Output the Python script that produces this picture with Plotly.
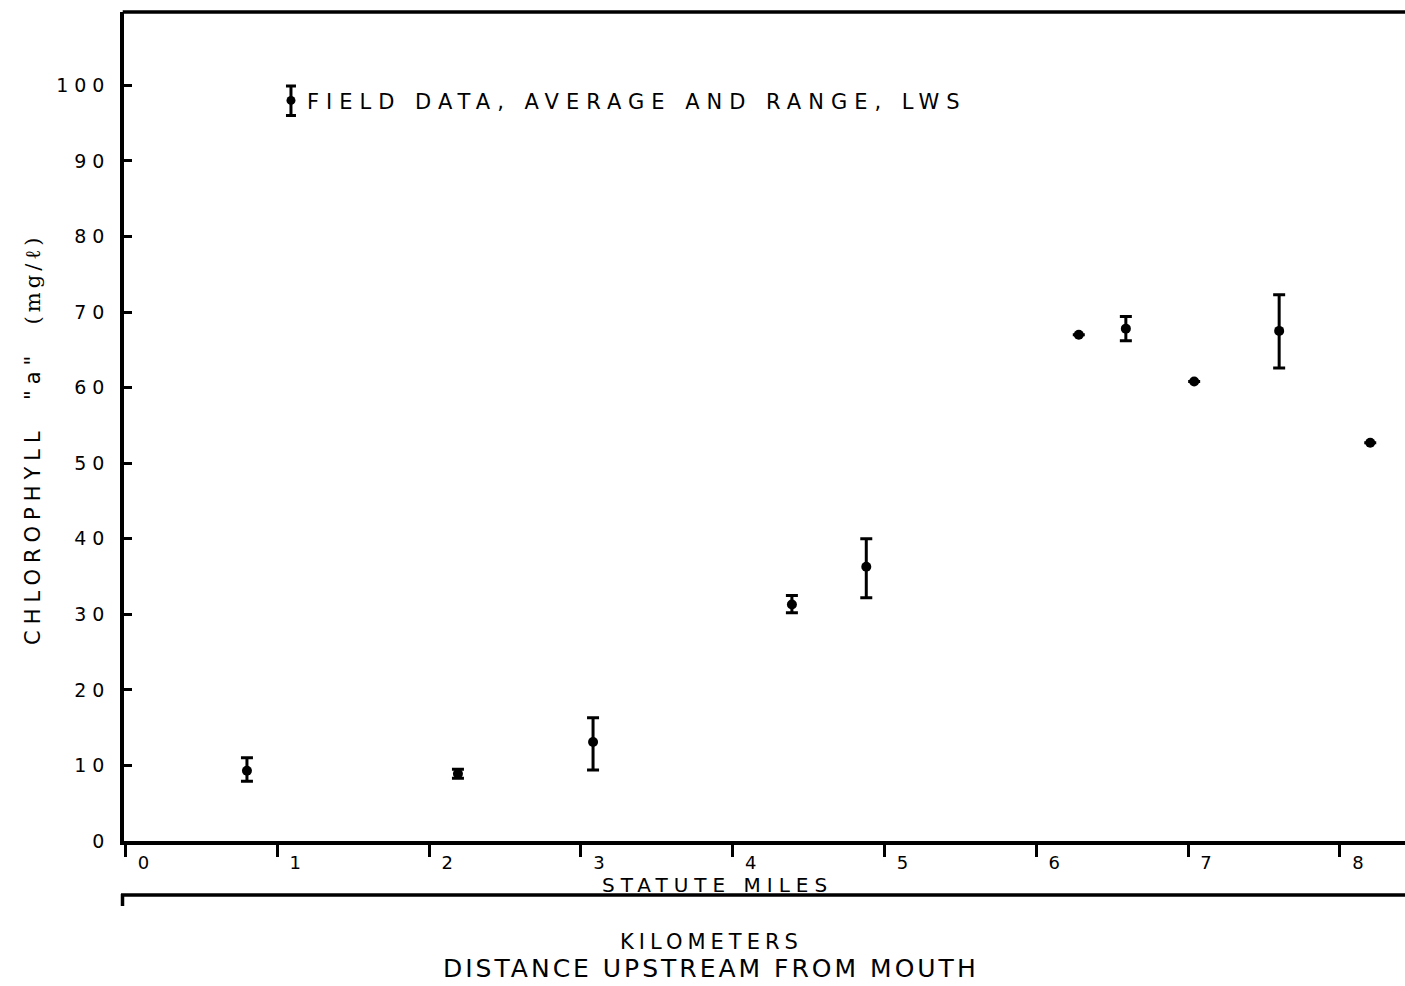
import plotly.graph_objects as go

# ---- data (statute miles upstream, chlorophyll a) ----
miles = [0.80, 2.19, 3.08, 4.39, 4.88, 6.28, 6.59, 7.04, 7.60, 8.20]
avg = [9.3, 8.9, 13.1, 31.3, 36.3, 67.0, 67.8, 60.8, 67.5, 52.7]
rng_max = [11.0, 9.5, 16.3, 32.5, 40.0, 67.0, 69.4, 60.8, 72.3, 52.7]
rng_min = [7.9, 8.3, 9.4, 30.2, 32.2, 67.0, 66.2, 60.8, 62.6, 52.7]

x_ticks = [0, 1, 2, 3, 4, 5, 6, 7, 8]
y_ticks = [0, 10, 20, 30, 40, 50, 60, 70, 80, 90, 100]

# legend key (drawn in data space, like the original legend symbol)
key_x = [1.09]
key_avg = [98.0]
key_max = [99.9]
key_min = [96.0]

FONT = "DejaVu Sans"
BLACK = "#000000"

err_up = [h - a for h, a in zip(rng_max, avg)]
err_dn = [a - l for a, l in zip(avg, rng_min)]


def spaced(text, px):
    return f'<span style="letter-spacing:{px}px">{text}</span>'


fig = go.Figure()
fig.add_trace(go.Scatter(
    x=miles, y=avg, mode="markers",
    marker=dict(color=BLACK, size=10),
    error_y=dict(type="data", symmetric=False, array=err_up, arrayminus=err_dn,
                 color=BLACK, thickness=3, width=6),
    showlegend=False,
))
fig.add_trace(go.Scatter(
    x=key_x, y=key_avg, mode="markers",
    marker=dict(color=BLACK, size=9),
    error_y=dict(type="data", symmetric=False,
                 array=[key_max[0] - key_avg[0]], arrayminus=[key_avg[0] - key_min[0]],
                 color=BLACK, thickness=3, width=5),
    showlegend=False,
))

W, H = 1405, 986
L, R, T, B = 124, 0, 12, 145
pw = W - L - R
ph = H - T - B


def px_x(px):
    return (px - L) / pw


def px_y(py):
    return (H - B - py) / ph


annotations = [
    dict(text=spaced("FIELD DATA, AVERAGE AND RANGE, LWS", 7), x=px_x(305), y=px_y(102),
         xanchor="left", yanchor="middle", font=dict(size=21)),
    dict(text=spaced('CHLOROPHYLL  "a"  ', 6)
         + '<span style="font-family:DejaVu Serif;letter-spacing:4px">(mg/ℓ)</span>',
         x=px_x(33), y=px_y(439), textangle=-90,
         xanchor="center", yanchor="middle", font=dict(size=21)),
    dict(text=spaced("STATUTE MILES", 6), x=px_x(717), y=px_y(885),
         xanchor="center", yanchor="middle", font=dict(size=20)),
    dict(text=spaced("KILOMETERS", 5), x=px_x(711), y=px_y(942),
         xanchor="center", yanchor="middle", font=dict(size=21)),
    dict(text=spaced("DISTANCE UPSTREAM FROM MOUTH", 3), x=px_x(711), y=px_y(969),
         xanchor="center", yanchor="middle", font=dict(size=25)),
]
for a in annotations:
    a.update(xref="paper", yref="paper", showarrow=False)
    a["font"].update(family=FONT, color=BLACK)

shapes = [
    # top border
    dict(type="line", xref="paper", yref="paper", x0=-0.001, x1=1, y0=1, y1=1,
         line=dict(color=BLACK, width=3.5)),
    # kilometer scale line
    dict(type="line", xref="paper", yref="paper", x0=px_x(121), x1=1,
         y0=px_y(895), y1=px_y(895), line=dict(color=BLACK, width=3.5)),
    dict(type="line", xref="paper", yref="paper", x0=px_x(122.5), x1=px_x(122.5),
         y0=px_y(894), y1=px_y(906), line=dict(color=BLACK, width=3.5)),
]

fig.update_layout(
    width=W, height=H,
    margin=dict(l=L, r=R, t=T, b=B, pad=0),
    paper_bgcolor="white", plot_bgcolor="white",
    font=dict(family=FONT, color=BLACK, size=19),
    annotations=annotations, shapes=shapes,
    showlegend=False,
)
fig.update_xaxes(
    range=[-0.01, 8.429], tickvals=x_ticks, ticktext=[str(v) for v in x_ticks],
    ticks="outside", ticklen=12, tickwidth=3, tickcolor=BLACK,
    showline=True, linewidth=3.5, linecolor=BLACK,
    showgrid=False, zeroline=False,
    ticklabelshift=18, ticklabelstandoff=-9,
    tickfont=dict(size=18, family=FONT),
)
fig.update_yaxes(
    range=[0, 109.7], tickvals=y_ticks, ticktext=[spaced(str(v), 6) for v in y_ticks],
    ticks="inside", ticklen=8, tickwidth=3, tickcolor=BLACK,
    showline=True, linewidth=3.5, linecolor=BLACK,
    showgrid=False, zeroline=False,
    ticklabelstandoff=6,
    tickfont=dict(size=19, family=FONT),
)

fig.write_html("out.html")
